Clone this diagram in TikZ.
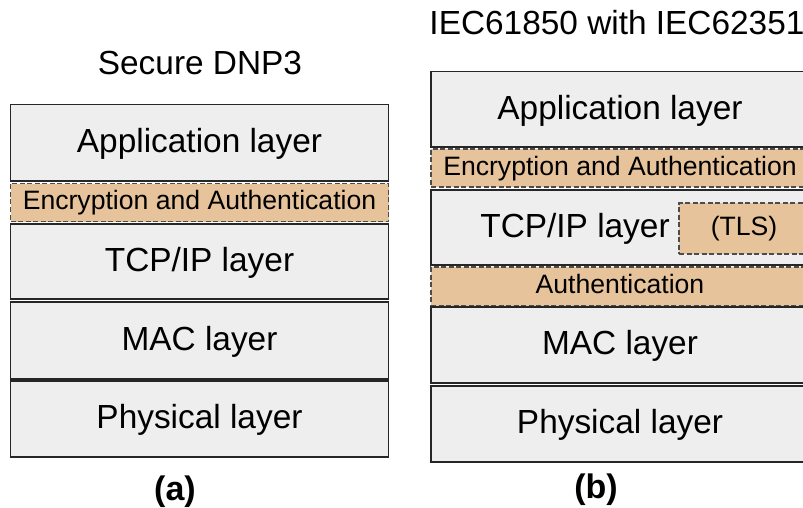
\documentclass[tikz,border=0pt]{standalone}
\usepackage{fontspec}
\setmainfont{Liberation Sans}
\usepackage{xcolor}
\usepackage{tikz}
\usetikzlibrary{positioning}

\definecolor{layergray}{HTML}{EEEEEE}
\definecolor{sectan}{HTML}{E6C39A}

\tikzset{
    layer/.style={draw=black!85, fill=layergray, line width=1.2pt, minimum width=378pt, inner sep=0pt, text height=25pt, text depth=5.3pt, font=\fontsize{33.4}{40}\selectfont},
    sec/.style={draw=black!70, fill=sectan, line width=1.1pt, dash pattern=on 5pt off 2.5pt, minimum width=378pt, inner sep=0pt, text height=20pt, text depth=5.4pt, font=\fontsize{26.6}{32}\selectfont},
    title/.style={inner sep=0pt, text height=25pt, text depth=5.3pt, font=\fontsize{33.4}{40}\selectfont},
}

\begin{document}
\begin{tikzpicture}[x=1pt, y=-1pt]
        \clip (0, 0) rectangle (803, 508);
        \fill[white] (0, 0) rectangle (803, 508);
        % (a) secure DNP3
        \node[title] (titleA) at (200, 65) {Secure DNP3};
        \node[layer, minimum height=76.5pt] (appA) at (199.5, 142.75) {Application layer};
        \node[sec, minimum height=38pt] (encA) at (199.5, 202.5) {Encryption and Authentication};
        \node[layer, minimum height=75pt] (tcpA) at (199.5, 261.5) {TCP/IP layer};
        \node[layer, minimum height=77pt] (macA) at (199.5, 340.5) {MAC layer};
        \node[layer, minimum height=76pt] (phyA) at (199.5, 419) {Physical layer};
        \node[title, font=\fontsize{34}{40}\selectfont\bfseries] (capA) at (175, 491) {(a)};
        % (b) IEC61850 with IEC62351
        \node[title] (titleB) at (617, 25) {IEC61850 with IEC62351};
        \node[layer, minimum height=75.5pt] (appB) at (620, 109.25) {Application layer};
        \node[sec, minimum height=38pt] (encB) at (620, 168) {Encryption and Authentication};
        \node[layer, minimum height=75pt] (tcpB) at (620, 227.5) {};
        \node[title] (tcpBtext) at (575, 228) {TCP/IP layer};
        \node[sec, minimum width=130pt, minimum height=51pt] (tlsB) at (744, 228.5) {(TLS)};
        \node[sec, minimum height=39pt] (authB) at (620, 286.5) {Authentication};
        \node[layer, minimum height=76pt] (macB) at (620, 345) {MAC layer};
        \node[layer, minimum height=76pt] (phyB) at (620, 424) {Physical layer};
        \node[title, font=\fontsize{34}{40}\selectfont\bfseries] (capB) at (596, 489) {(b)};
    \end{tikzpicture}
\end{document}
